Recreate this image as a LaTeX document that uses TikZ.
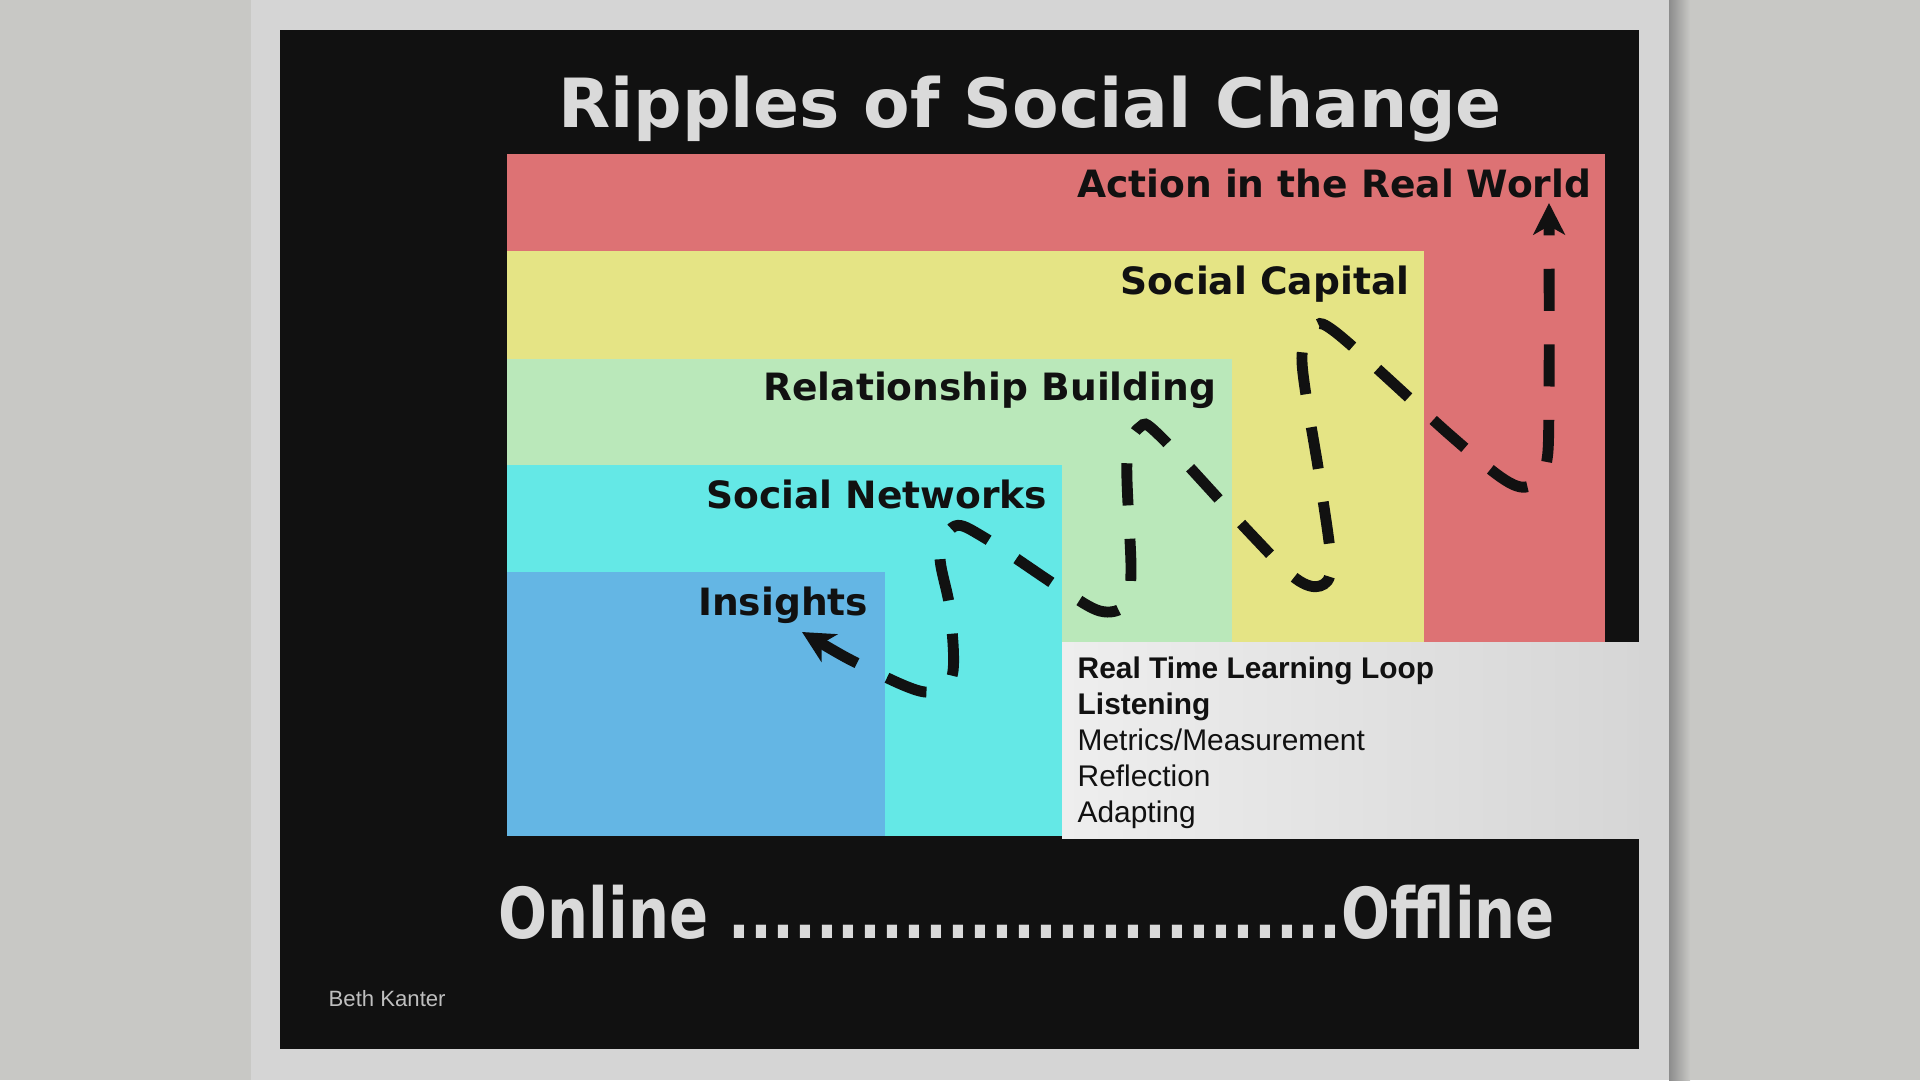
\documentclass[tikz,border=0pt]{standalone}
\usepackage{fontspec}
\setmainfont{Liberation Sans}
\newfontfamily\verd{DejaVu Sans}
\newfontfamily\verdn[FakeStretch=0.82]{DejaVu Sans}
\usetikzlibrary{arrows.meta}
\definecolor{marble}{HTML}{C8C8C5}
\definecolor{mount}{HTML}{D5D5D5}
\definecolor{panel}{HTML}{111111}
\definecolor{actred}{HTML}{DD7274}
\definecolor{capyel}{HTML}{E5E485}
\definecolor{relgrn}{HTML}{BAE8BA}
\definecolor{netcyan}{HTML}{64E8E6}
\definecolor{insblue}{HTML}{64B6E4}
\definecolor{boxl}{HTML}{EEEEEE}
\definecolor{boxr}{HTML}{D6D6D6}
\definecolor{lightink}{HTML}{DADADA}
\begin{document}
\begin{tikzpicture}[x=0.1mm, y=-0.1mm, >={Stealth[length=9pt,width=9pt,inset=2.5pt]},
  zone/.style={anchor=base east, inner sep=0, text=panel, font=\verd\bfseries\fontsize{10.7}{13}\selectfont},
  loopline/.style={anchor=base west, inner sep=0, text=panel, font=\fontsize{8.5}{10}\selectfont},
  ripple/.style={line width=3.1pt, dash pattern=on 12pt off 9.5pt, draw=panel}]
\useasboundingbox (0,0) rectangle (1920,1080);
\fill[marble] (0,0) rectangle (1920,1080);
\shade[left color=black!45, right color=marble] (1669,0) rectangle (1690,1080);
\fill[mount] (251,0) rectangle (1669,1080);
\fill[panel] (280,30) rectangle (1639,1049);
\fill[actred] (507,154) rectangle (1605,642);
\fill[capyel] (507,251) rectangle (1424,642);
\fill[relgrn] (507,359) rectangle (1232,642);
\fill[netcyan] (507,465) rectangle (1062,836);
\fill[insblue] (507,572) rectangle (885,836);
\shade[left color=boxl, right color=boxr] (1062,642) rectangle (1639,838);

\node[anchor=base, inner sep=0, text=lightink, font=\verd\bfseries\fontsize{19.3}{22}\selectfont] (title) at (1030,127) {Ripples of Social Change};
\node[zone] (action) at (1592,197) {Action in the Real World};
\node[zone] (capital) at (1410,294) {Social Capital};
\node[zone] (relation) at (1217,400) {Relationship Building};
\node[zone] (networks) at (1048,508) {Social Networks};
\node[zone] (insights) at (869,615) {Insights};

\node[loopline, font=\bfseries\fontsize{8.5}{10}\selectfont] (loop1) at (1077,678) {Real Time Learning Loop};
\node[loopline, font=\bfseries\fontsize{8.5}{10}\selectfont] (loop2) at (1077,714) {Listening};
\node[loopline] (loop3) at (1077,750) {Metrics/Measurement};
\node[loopline] (loop4) at (1077,786) {Reflection};
\node[loopline] (loop5) at (1077,822) {Adapting};

\node[anchor=base west, inner sep=0, text=lightink, font=\verdn\bfseries\fontsize{20}{24}\selectfont] (axis) at (498,938) {Online ............................Offline};
\node[anchor=base west, inner sep=0, text=black!25, font=\fontsize{6.3}{7}\selectfont] (credit) at (328,1006) {Beth Kanter};

\coordinate (insTip) at (802,632);
\coordinate (actTip) at (1549,203);
\draw[ripple, <->] plot[smooth, tension=0.55] coordinates {(insTip) (865,667) (925,692) (952,676) (950,610) (940,555) (955,526) (985,538) (1060,588) (1100,611) (1125,605) (1131,570) (1127,460) (1140,427) (1160,436) (1250,533) (1295,578) (1320,586) (1331,565) (1320,480) (1302,362) (1314,333) (1334,331) (1450,435) (1505,480) (1530,486) (1546,465) (1549,400) (actTip)};
\end{tikzpicture}
\end{document}
